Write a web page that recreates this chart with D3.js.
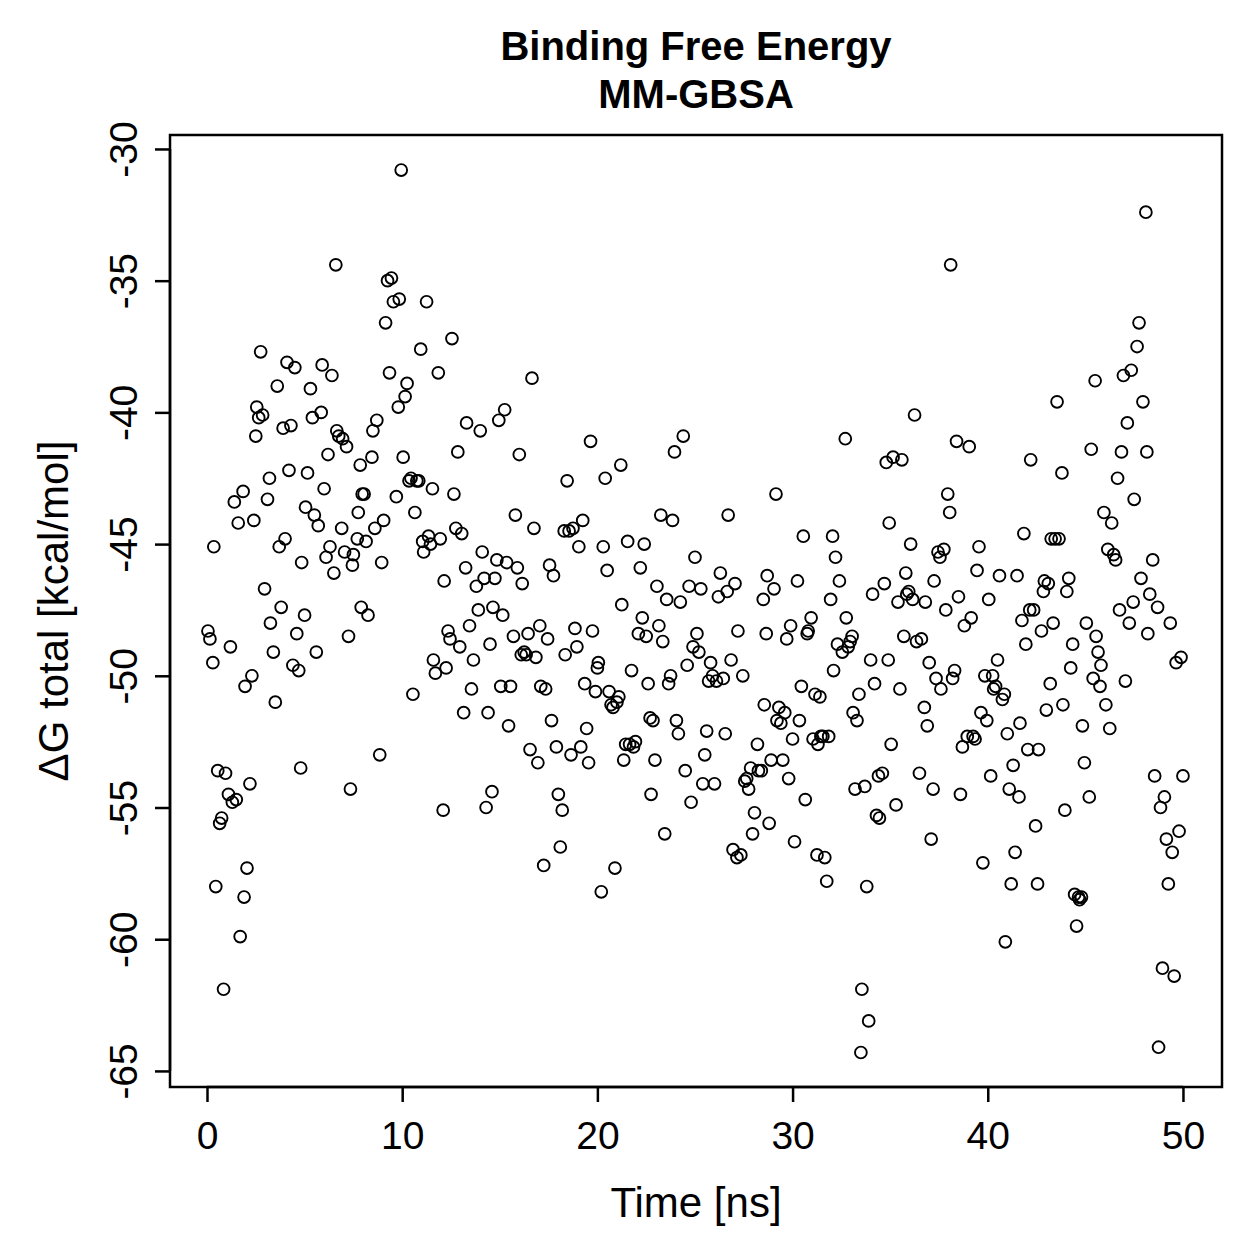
<!DOCTYPE html>
<html>
<head>
<meta charset="utf-8">
<script src="https://cdn.jsdelivr.net/npm/d3@7"></script>
<style>
  body { margin: 0; background: #fff; }
  text { font-family: "Liberation Sans", Arial, Helvetica, sans-serif; }
</style>
</head>
<body>
<script>
const width = 1259;
const height = 1259;

// sampled frames: time [ns] and ΔG total [kcal/mol]
const time = [
  0.05, 0.15, 0.3, 0.35, 0.45, 0.55, 0.65, 0.75, 0.85, 0.95,
  1.1, 1.2, 1.3, 1.5, 1.4, 1.6, 1.7, 1.85, 1.9, 1.95,
  2.05, 2.2, 2.3, 2.4, 2.5, 2.55, 2.65, 2.75, 2.85, 2.95,
  3.1, 3.2, 3.25, 3.4, 3.5, 3.6, 3.7, 3.8, 3.9, 4.0,
  4.1, 4.2, 4.3, 4.4, 4.5, 4.6, 4.7, 4.8, 4.85, 5.0,
  5.05, 5.15, 5.3, 5.4, 5.5, 5.6, 5.7, 5.85, 5.9, 6.0,
  6.1, 6.2, 6.3, 6.4, 6.5, 6.6, 6.65, 6.75, 6.9, 6.95,
  7.05, 7.15, 7.25, 7.35, 7.45, 7.5, 7.7, 7.75, 7.85, 7.9,
  7.95, 8.05, 8.15, 8.25, 8.45, 8.5, 8.6, 8.7, 8.85, 8.95,
  9.05, 9.15, 9.25, 9.35, 9.45, 9.55, 9.7, 9.8, 9.85, 9.95,
  10.05, 10.15, 10.25, 10.35, 10.45, 10.55, 10.65, 10.75, 10.85, 10.95,
  11.05, 11.1, 11.25, 11.35, 11.45, 11.55, 11.6, 11.7, 11.85, 11.95,
  12.1, 12.15, 12.25, 12.35, 12.45, 12.55, 12.65, 12.75, 12.85, 12.95,
  13.05, 13.15, 13.25, 13.3, 13.45, 13.55, 13.65, 13.8, 13.9, 14.0,
  14.1, 14.2, 14.3, 14.4, 14.5, 14.6, 14.65, 14.75, 14.85, 14.95,
  15.05, 15.15, 15.25, 15.35, 15.45, 15.55, 15.7, 15.8, 15.9, 16.0,
  16.1, 16.15, 16.25, 16.35, 16.45, 16.55, 16.65, 16.75, 16.85, 16.95,
  17.05, 17.1, 17.25, 17.35, 17.45, 17.55, 17.65, 17.75, 17.9, 18.0,
  18.1, 18.2, 18.3, 18.35, 18.45, 18.55, 18.65, 18.75, 18.85, 18.95,
  19.05, 19.15, 19.25, 19.35, 19.45, 19.55, 19.65, 19.75, 19.9, 20.0,
  20.05, 20.2, 20.3, 20.4, 20.5, 20.6, 20.7, 20.8, 20.9, 21.0,
  21.1, 21.2, 21.25, 21.35, 21.45, 21.55, 21.65, 21.75, 21.85, 21.95,
  22.1, 22.2, 22.3, 22.4, 22.5, 22.6, 22.7, 22.75, 22.85, 22.95,
  23.05, 23.15, 23.25, 23.35, 23.45, 23.55, 23.65, 23.75, 23.85, 23.95,
  24.4, 24.05, 24.15, 24.25, 24.5, 24.6, 24.7, 24.8, 24.9, 25.0,
  25.1, 25.2, 25.3, 25.4, 25.5, 25.6, 25.7, 25.8, 25.9, 26.0,
  26.1, 26.2, 26.3, 26.45, 26.55, 26.65, 26.7, 26.85, 26.95, 27.05,
  27.15, 27.2, 27.35, 27.45, 27.55, 27.65, 27.75, 27.85, 27.95, 28.05,
  28.2, 28.25, 28.4, 28.5, 28.55, 28.65, 28.7, 28.8, 28.9, 29.05,
  29.15, 29.2, 29.3, 29.4, 29.5, 29.6, 29.7, 29.8, 29.9, 30.0,
  30.1, 30.25, 30.35, 30.45, 30.55, 30.65, 30.75, 30.8, 30.95, 31.05,
  31.15, 31.25, 31.3, 31.4, 31.45, 31.55, 31.65, 31.75, 31.85, 31.95,
  32.05, 32.1, 32.2, 32.3, 32.4, 32.55, 32.7, 32.75, 32.85, 32.95,
  33.05, 33.1, 33.2, 33.3, 33.4, 33.5, 33.55, 33.7, 33.8, 33.9,
  34.0, 34.1, 34.2, 34.3, 34.4, 34.45, 34.6, 34.7, 34.8, 34.9,
  34.95, 35.05, 35.15, 35.3, 35.4, 35.5, 35.6, 35.7, 35.8, 35.85,
  35.95, 36.05, 36.15, 36.25, 36.35, 36.5, 36.6, 36.75, 36.8, 36.9,
  37.0, 37.1, 37.2, 37.25, 37.35, 37.45, 37.55, 37.6, 37.75, 37.85,
  37.95, 38.05, 38.1, 38.2, 38.3, 38.4, 38.5, 38.6, 38.7, 38.8,
  38.95, 39.05, 39.15, 39.25, 39.35, 39.45, 39.55, 39.65, 39.75, 39.85,
  39.95, 40.05, 40.15, 40.25, 40.3, 40.4, 40.5, 40.6, 40.75, 40.85,
  40.9, 41.0, 41.1, 41.2, 41.3, 41.4, 41.5, 41.6, 41.65, 41.75,
  41.85, 41.95, 42.05, 42.15, 42.2, 42.35, 42.45, 42.55, 42.6, 42.75,
  42.85, 42.9, 43.0, 43.1, 43.2, 43.25, 43.35, 43.45, 43.55, 43.65,
  43.8, 43.85, 43.95, 44.05, 44.15, 44.25, 44.35, 44.45, 44.55, 44.65,
  44.7, 44.8, 44.85, 44.95, 45.05, 45.2, 45.3, 45.4, 45.5, 45.55,
  45.65, 45.75, 45.8, 45.95, 46.05, 46.15, 46.25, 46.35, 46.45, 46.55,
  46.65, 46.75, 46.85, 46.95, 47.05, 47.15, 47.25, 47.35, 47.45, 47.5,
  47.65, 47.75, 47.85, 47.95, 48.1, 48.15, 48.2, 48.3, 48.45, 48.55,
  48.7, 48.75, 48.85, 48.95, 49.05, 49.15, 49.25, 49.35, 49.45, 49.55,
  49.65, 49.8, 49.9, 50.0
];

const dG = [
  -48.3, -48.6, -49.5, -45.1, -58.0, -53.6, -55.6, -55.4, -61.9, -53.7,
  -54.5, -48.9, -54.8, -54.7, -43.4, -44.2, -59.9, -43.0, -58.4, -50.4,
  -57.3, -54.1, -50.0, -44.1, -40.9, -39.8, -40.2, -37.7, -40.1, -46.7,
  -43.3, -42.5, -48.0, -49.1, -51.0, -39.0, -45.1, -47.4, -40.6, -44.8,
  -38.1, -42.2, -40.5, -49.6, -38.3, -48.4, -49.8, -53.5, -45.7, -47.7,
  -43.6, -42.3, -39.1, -40.2, -43.9, -49.1, -44.3, -40.0, -38.2, -42.9,
  -45.5, -41.6, -45.1, -38.6, -46.1, -34.4, -40.7, -40.9, -44.4, -41.0,
  -45.3, -41.3, -48.5, -54.3, -45.8, -45.4, -44.8, -43.8, -42.0, -47.4,
  -43.1, -43.1, -44.9, -47.7, -41.7, -40.7, -44.4, -40.3, -53.0, -45.7,
  -44.1, -36.6, -35.0, -38.5, -34.9, -35.8, -43.2, -39.8, -35.7, -30.8,
  -41.7, -39.4, -38.9, -42.6, -42.5, -50.7, -43.8, -42.6, -42.6, -37.6,
  -44.9, -45.3, -35.8, -44.7, -45.0, -42.9, -49.4, -49.9, -38.5, -44.8,
  -55.1, -46.4, -49.7, -48.3, -48.6, -37.2, -43.1, -44.4, -41.5, -48.9,
  -44.6, -51.4, -45.9, -40.4, -48.1, -50.5, -49.4, -46.6, -47.5, -40.7,
  -45.3, -46.3, -55.0, -51.4, -48.8, -54.4, -47.4, -46.3, -45.6, -40.3,
  -50.4, -47.7, -39.9, -45.7, -51.9, -50.4, -48.5, -43.9, -45.9, -41.6,
  -49.2, -46.5, -49.1, -49.2, -48.4, -52.8, -38.7, -44.4, -49.3, -53.3,
  -48.1, -50.4, -57.2, -50.5, -48.6, -45.8, -51.7, -46.2, -52.7, -54.5,
  -56.5, -55.1, -44.5, -49.2, -42.6, -44.5, -53.0, -44.4, -48.2, -48.9,
  -45.1, -52.7, -44.1, -50.3, -52.0, -53.3, -41.1, -48.3, -50.6, -49.7,
  -49.5, -58.2, -45.1, -42.5, -46.0, -50.6, -51.1, -51.2, -57.3, -51.0,
  -50.8, -42.0, -47.3, -53.2, -52.6, -44.9, -52.6, -49.8, -52.7, -52.5,
  -48.4, -45.9, -47.8, -45.0, -48.5, -50.3, -51.6, -54.5, -51.7, -53.2,
  -46.6, -48.1, -43.9, -48.7, -56.0, -47.1, -50.3, -50.0, -44.1, -41.5,
  -40.9, -51.7, -52.2, -47.2, -53.6, -49.6, -46.6, -54.8, -48.9, -45.5,
  -48.4, -49.1, -46.7, -54.1, -53.0, -52.1, -50.2, -49.5, -50.0, -54.1,
  -50.2, -47.0, -46.1, -50.1, -52.2, -46.8, -43.9, -49.4, -56.6, -46.5,
  -56.9, -48.3, -56.8, -50.0, -54.0, -53.9, -54.3, -53.5, -56.0, -55.2,
  -52.6, -53.6, -53.6, -47.1, -51.1, -48.4, -46.2, -55.6, -53.2, -46.7,
  -43.1, -51.7, -51.2, -51.8, -53.2, -51.4, -48.6, -53.9, -48.1, -52.4,
  -56.3, -46.4, -51.7, -50.4, -44.7, -54.7, -48.4, -48.3, -47.8, -52.4,
  -50.7, -56.8, -52.6, -50.8, -52.3, -52.3, -56.9, -57.8, -52.3, -47.1,
  -44.7, -49.8, -45.5, -48.8, -46.4, -49.1, -41.0, -47.8, -48.9, -48.7,
  -48.5, -51.4, -54.3, -51.7, -50.7, -64.3, -61.9, -54.2, -58.0, -63.1,
  -49.4, -46.9, -50.3, -55.3, -53.8, -55.4, -53.7, -46.5, -41.9, -49.4,
  -44.2, -52.6, -41.7, -54.9, -47.2, -50.5, -41.8, -48.5, -46.1, -46.9,
  -46.8, -45.0, -47.1, -40.1, -48.7, -53.7, -48.6, -51.2, -47.2, -51.9,
  -49.5, -56.2, -54.3, -46.4, -50.1, -45.3, -45.5, -50.5, -45.2, -47.5,
  -43.1, -43.8, -34.4, -50.1, -49.8, -41.1, -47.0, -54.5, -52.7, -48.1,
  -52.3, -41.3, -47.8, -52.3, -52.4, -46.0, -45.1, -51.4, -57.1, -50.0,
  -51.7, -47.1, -53.8, -50.0, -50.5, -50.4, -49.4, -46.2, -50.9, -50.7,
  -60.1, -52.2, -54.3, -57.9, -53.4, -56.7, -46.2, -54.6, -51.8, -47.9,
  -44.6, -48.8, -52.8, -47.5, -41.8, -47.5, -55.7, -57.9, -52.8, -48.3,
  -46.8, -46.4, -51.3, -46.5, -50.3, -44.8, -48.0, -44.8, -39.6, -44.8,
  -42.3, -51.1, -55.1, -46.8, -46.3, -49.7, -48.8, -58.3, -59.5, -58.4,
  -58.5, -58.4, -51.9, -53.3, -48.0, -54.6, -41.4, -50.1, -38.8, -48.5,
  -49.1, -50.4, -49.6, -43.8, -51.1, -45.2, -52.0, -44.2, -45.4, -45.6,
  -42.5, -47.5, -41.5, -38.6, -50.2, -40.4, -48.0, -38.4, -47.2, -43.3,
  -37.5, -36.6, -46.3, -39.6, -32.4, -41.5, -48.4, -46.9, -45.6, -53.8,
  -47.4, -64.1, -55.0, -61.1, -54.6, -56.2, -57.9, -48.0, -56.7, -61.4,
  -49.5, -55.9, -49.3, -53.8
];

const xTicks = [0, 10, 20, 30, 40, 50];
const yTicks = [-30, -35, -40, -45, -50, -55, -60, -65];

const margin = { top: 135, right: 37, bottom: 172, left: 170 };
const plotW = width - margin.left - margin.right;
const plotH = height - margin.top - margin.bottom;

const svg = d3
  .select("body")
  .append("svg")
  .attr("width", width)
  .attr("height", height)
  .attr("viewBox", [0, 0, width, height]);

const x = d3.scaleLinear().domain([-1.895, 52.0]).range([margin.left, margin.left + plotW]);
const y = d3.scaleLinear().domain([-65.61, -29.47]).range([margin.top + plotH, margin.top]);

const points = time.map((t, i) => ({ t: t, v: dG[i] }));

// title
svg
  .append("text")
  .attr("x", 696)
  .attr("y", 60)
  .attr("text-anchor", "middle")
  .attr("font-size", "40px")
  .attr("font-weight", "bold")
  .text("Binding Free Energy");

svg
  .append("text")
  .attr("x", 696)
  .attr("y", 108)
  .attr("text-anchor", "middle")
  .attr("font-size", "40px")
  .attr("font-weight", "bold")
  .text("MM-GBSA");

// points
svg
  .append("g")
  .selectAll("circle")
  .data(points)
  .enter()
  .append("circle")
  .attr("cx", (d) => x(d.t))
  .attr("cy", (d) => y(d.v))
  .attr("r", 5.9)
  .attr("fill", "none")
  .attr("stroke", "#000")
  .attr("stroke-width", 1.9);

// x axis
const xAxis = svg
  .append("g")
  .attr("transform", "translate(0," + (margin.top + plotH) + ")")
  .call(d3.axisBottom(x).tickValues(xTicks).tickSize(15).tickPadding(19).tickFormat(d3.format("d")));

xAxis.select(".domain").attr("d", "M" + x(0) + ",0H" + x(50)).attr("stroke-width", 2.5);
xAxis.selectAll(".tick line").attr("stroke-width", 2.5);
xAxis.selectAll("text").attr("font-size", "39px").attr("font-family", "Liberation Sans, Arial, sans-serif");

// y axis
const yAxis = svg
  .append("g")
  .attr("transform", "translate(" + margin.left + ",0)")
  .call(d3.axisLeft(y).tickValues(yTicks).tickSize(15).tickFormat((d) => String(d)));

yAxis.select(".domain").attr("d", "M0," + y(-30) + "V" + y(-65)).attr("stroke-width", 2.5);
yAxis.selectAll(".tick line").attr("stroke-width", 2.5);
yAxis
  .selectAll("text")
  .attr("font-size", "39px")
  .attr("font-family", "Liberation Sans, Arial, sans-serif")
  .attr("text-anchor", "middle")
  .attr("x", 0)
  .attr("dy", 0)
  .attr("transform", "translate(-33,0) rotate(-90)");

// frame
svg
  .append("rect")
  .attr("x", margin.left)
  .attr("y", margin.top)
  .attr("width", plotW)
  .attr("height", plotH)
  .attr("fill", "none")
  .attr("stroke", "#000")
  .attr("stroke-width", 2.5);

// axis titles
svg
  .append("text")
  .attr("x", margin.left + plotW / 2)
  .attr("y", 1217)
  .attr("text-anchor", "middle")
  .attr("font-size", "42px")
  .text("Time [ns]");

svg
  .append("text")
  .attr("transform", "translate(68," + (margin.top + plotH / 2) + ") rotate(-90)")
  .attr("text-anchor", "middle")
  .attr("font-size", "42px")
  .text("ΔG total [kcal/mol]");
</script>
</body>
</html>
